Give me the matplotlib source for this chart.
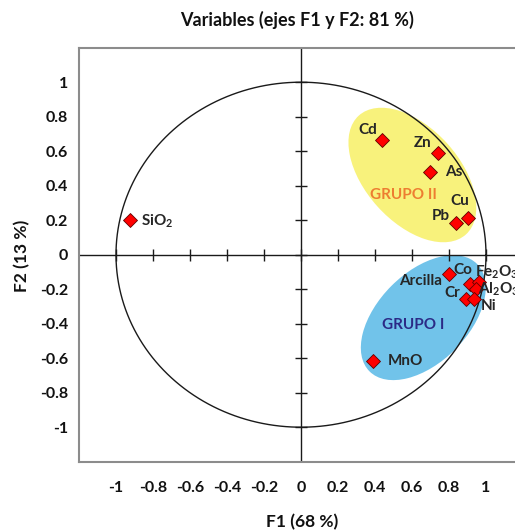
import numpy as np
import matplotlib
matplotlib.use("Agg")
import matplotlib.pyplot as plt
import matplotlib.transforms as mtransforms
from matplotlib.patches import Ellipse

plt.rcParams['font.family'] = ['Lato', 'DejaVu Sans']
plt.rcParams['font.weight'] = 'bold'
plt.rcParams['mathtext.fontset'] = 'custom'
plt.rcParams['mathtext.rm'] = 'Lato:bold'
plt.rcParams['mathtext.default'] = 'rm'

# variables (F1, F2 loadings)
names = ['Cd', 'Zn', 'As', 'Cu', 'Pb', 'SiO$_2$', 'Co', 'Arcilla',
         'Fe$_2$O$_3$', 'Al$_2$O$_3$', 'Cr', 'Ni', 'MnO']
f1 = [0.438, 0.741, 0.699, 0.903, 0.838, -0.926, 0.802, 0.911,
      0.964, 0.946, 0.892, 0.937, 0.387]
f2 = [0.664, 0.592, 0.481, 0.213, 0.181, 0.204, -0.113, -0.169,
      -0.156, -0.200, -0.259, -0.259, -0.616]
# label offsets in pixels (dx, dy)
offsets = [(-14, 10), (-15, 10), (23, 0), (-8, 17), (-15, 7), (28, -2),
           (13, 4), (-49, 3), (18, 9), (23, 0), (-14, 6), (14, -7), (33, 0)]

ticks = [-1, -0.8, -0.6, -0.4, -0.2, 0, 0.2, 0.4, 0.6, 0.8, 1]
tick_labels = ['-1', '-0.8', '-0.6', '-0.4', '-0.2', '0', '0.2', '0.4', '0.6', '0.8', '1']

fig = plt.figure(figsize=(5.15, 5.31), dpi=100)
ax = fig.add_axes([79/515, 69.3/531, 444/515, 414/531])
ax.set_xlim(-1.2, 1.2)
ax.set_ylim(-1.2, 1.2)

for s in ax.spines.values():
    s.set_color('#8c8c8c')
    s.set_linewidth(1.5)

ax.set_xticks(ticks)
ax.set_xticklabels(tick_labels)
ax.set_yticks(ticks)
ax.set_yticklabels(tick_labels)
ax.tick_params(axis='x', length=0, pad=14, labelsize=11.5, labelcolor='#111111')
ax.tick_params(axis='y', length=0, pad=8, labelsize=11.5, labelcolor='#111111')

# group ellipses (sizes in pixels)
def group_ellipse(cx, cy, a, b, ang, color):
    tr = mtransforms.Affine2D().translate(*ax.transData.transform((cx, cy)))
    e = Ellipse((0, 0), 2 * a, 2 * b, angle=ang, transform=tr,
                facecolor=color, edgecolor='none', zorder=0.5)
    ax.add_patch(e)

group_ellipse(0.602, 0.462, 80, 47, -48, '#f8f27c')
group_ellipse(0.661, -0.365, 76, 45, 45, '#71c3ea')

# axes cross and unit circle
ax.axhline(0, color='#1a1a1a', lw=1, zorder=1)
ax.axvline(0, color='#1a1a1a', lw=1, zorder=1)
ax.plot(ticks, np.zeros(len(ticks)), ls='none', marker='|', ms=8, mew=1,
        color='#1a1a1a', zorder=1)
ax.plot(np.zeros(len(ticks)), ticks, ls='none', marker='_', ms=8, mew=1,
        color='#1a1a1a', zorder=1)
t = np.linspace(0, 2 * np.pi, 400)
ax.plot(np.cos(t), np.sin(t), color='#1a1a1a', lw=1, zorder=1)

ax.plot(f1, f2, ls='none', marker='D', ms=7, mfc='#ff0000', mec='#600000',
        mew=0.6, zorder=3)
for n, x, y, (dx, dy) in zip(names, f1, f2, offsets):
    ax.annotate(n, (x, y), xytext=(dx, dy), textcoords='offset pixels',
                ha='center', va='center', fontsize=11, color='#262626',
                annotation_clip=False, zorder=4)

ax.text(0.555, 0.346, 'GRUPO II', ha='center', va='center', fontsize=11,
        color='#ed7d31', zorder=4)
ax.text(0.607, -0.406, 'GRUPO I', ha='center', va='center', fontsize=11,
        color='#2b2a86', zorder=4)

fig.text(297/515, 1 - 20/531, 'Variables (ejes F1 y F2: 81 %)', ha='center',
         va='center', fontsize=13, color='#111111')
fig.text(302/515, 1 - 522/531, 'F1 (68 %)', ha='center', va='center',
         fontsize=12.5, color='#111111')
fig.text(22/515, 1 - 256/531, 'F2 (13 %)', ha='center', va='center',
         rotation=90, fontsize=12.5, color='#111111')

fig.savefig('out.png', dpi=100)
